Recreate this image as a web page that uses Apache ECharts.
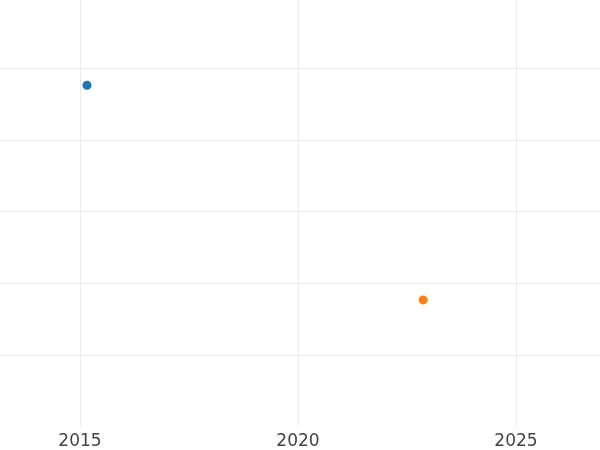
<!DOCTYPE html>
<html>
<head>
<meta charset="utf-8">
<script src="https://cdn.jsdelivr.net/npm/echarts@6/dist/echarts.min.js"></script>
<style>html,body{margin:0;padding:0;background:#fff}#c{width:600px;height:450px}</style>
</head>
<body>
<div id="c"></div>
<script>
const xTicks = [2015, 2020, 2025];
const yTicks = [1, 2, 3, 4, 5];
const seriesA = [[2015.16, 4.76]];
const seriesB = [[2022.87, 1.77]];
const colors = ['#1f77b4', '#ff7f0e'];

const chart = echarts.init(document.getElementById('c'));
chart.setOption({
  animation: false,
  backgroundColor: '#ffffff',
  grid: { left: 0, right: 0, top: 0, bottom: 23, containLabel: false },
  xAxis: {
    type: 'value', min: 2013.165, max: 2026.927,
    axisLine: { show: false },
    axisTick: { show: false, customValues: xTicks },
    axisLabel: { customValues: xTicks, formatter: v => String(v), color: '#444', fontSize: 17, fontFamily: 'DejaVu Sans', margin: 6 },
    splitLine: { show: true, lineStyle: { color: '#ebebeb', width: 1 } }
  },
  yAxis: {
    type: 'value', min: 0, max: 5.948,
    axisLine: { show: false },
    axisTick: { show: false, customValues: yTicks },
    axisLabel: { show: false, customValues: yTicks },
    splitLine: { show: true, lineStyle: { color: '#ebebeb', width: 1 } }
  },
  series: [
    { type: 'scatter', data: seriesA, symbolSize: 9, itemStyle: { color: colors[0], opacity: 1 } },
    { type: 'scatter', data: seriesB, symbolSize: 9, itemStyle: { color: colors[1], opacity: 1 } }
  ]
});
</script>
</body>
</html>
